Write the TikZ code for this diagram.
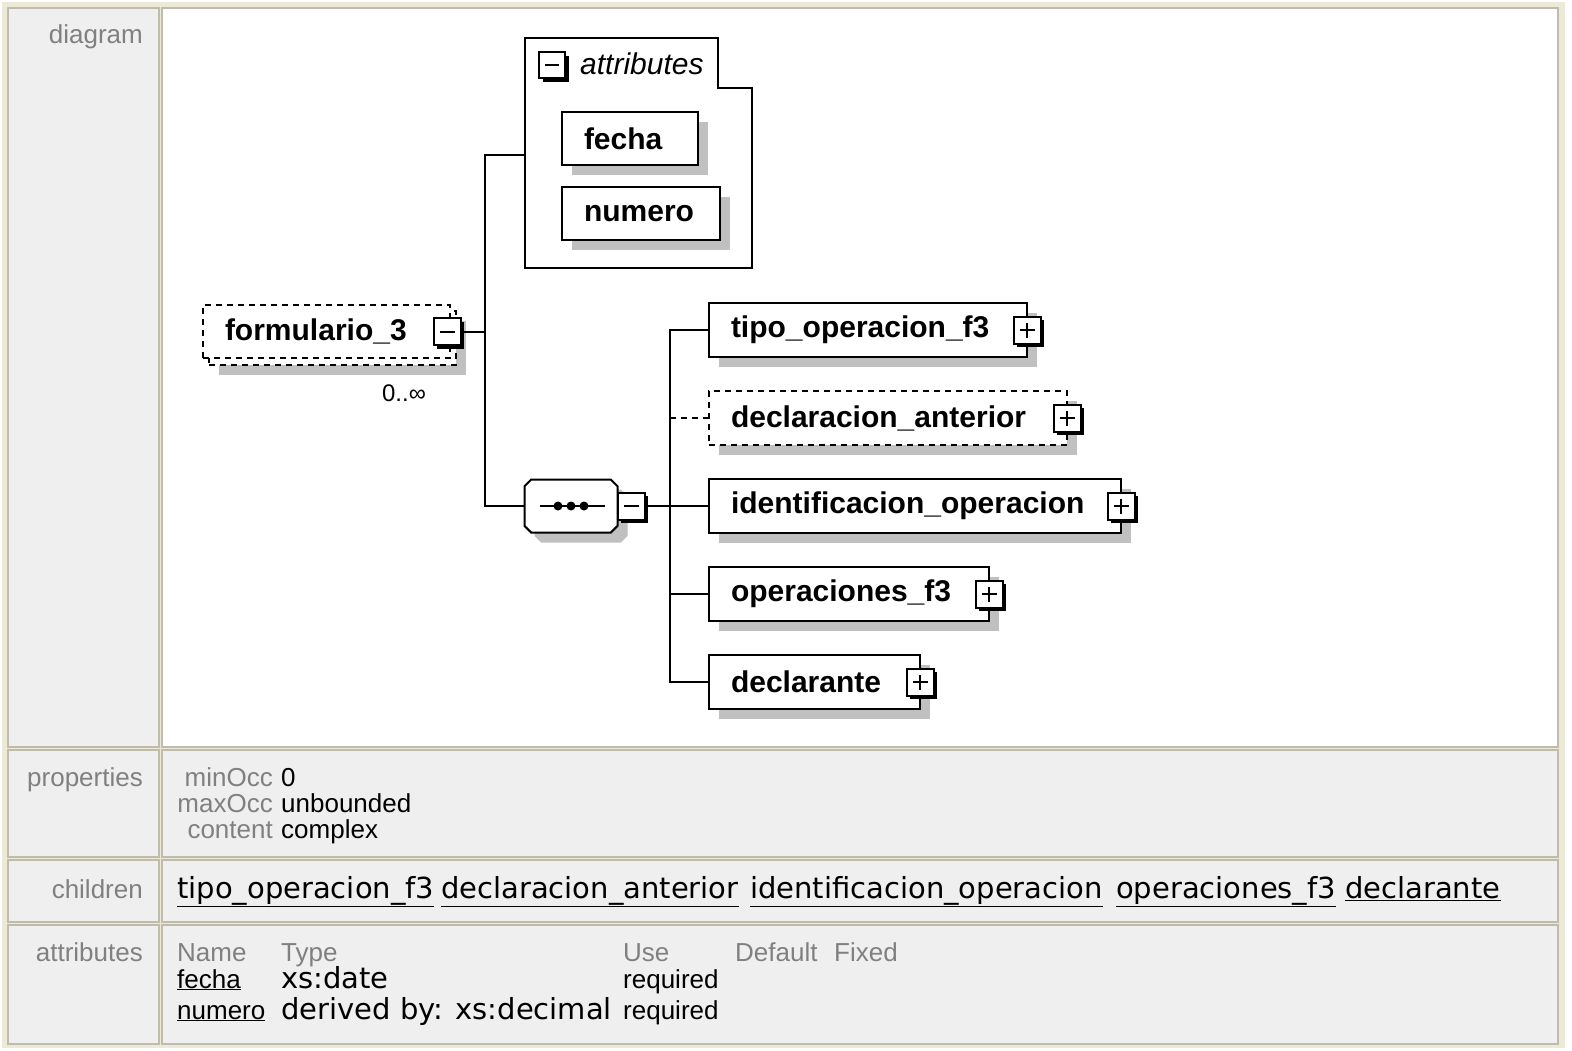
\documentclass[tikz,border=0pt]{standalone}
\usepackage{fontspec}
\setmainfont{Liberation Sans}
\newfontfamily\linkfont{DejaVu Sans}
\usepackage{tikz}
\usetikzlibrary{positioning, shadows, shapes.misc}
\definecolor{cellgray}{RGB}{239,239,239}
\definecolor{cellline}{RGB}{192,188,172}
\definecolor{framebeige}{RGB}{236,233,216}
\definecolor{labelgray}{RGB}{128,128,128}
\definecolor{shadowgray}{RGB}{192,192,192}
\tikzset{
x=1pt, y=-1pt, % one unit is one pixel, y runs downwards
node distance=34pt, % gap between the child elements
wire/.style={line width=2pt}, % the connecting lines
optional/.style={dash pattern=on 6pt off 5pt}, % elements with minOccurs=0
shade/.style={drop shadow={shadow xshift=10pt, shadow yshift=-10pt, fill=shadowgray, opacity=1}},
element/.style={draw, line width=2pt, fill=white, outer sep=0pt, anchor=north west, minimum height=54pt, inner xsep=22pt, inner ysep=0pt, align=left, font=\fontsize{30}{34}\selectfont\bfseries},
expander/.style={draw, line width=2pt, fill=white, minimum size=27pt, inner sep=0pt, outer sep=0pt, drop shadow={shadow xshift=3.5pt, shadow yshift=-3.5pt, fill=black, opacity=1}},
minusbox/.style={expander, path picture={\draw[line width=2pt] ([xshift=6pt]path picture bounding box.west) -- ([xshift=-6pt]path picture bounding box.east);}},
plusbox/.style={expander, path picture={\draw[line width=2pt] ([xshift=6pt]path picture bounding box.west) -- ([xshift=-6pt]path picture bounding box.east); \draw[line width=2pt] ([yshift=-6pt]path picture bounding box.north) -- ([yshift=6pt]path picture bounding box.south);}},
cell/.style={draw=cellline, line width=2.5pt, fill=cellgray}, % table cells
rowlabel/.style={anchor=base east, inner sep=0pt, text=labelgray, font=\fontsize{26}{30}\selectfont},
keytext/.style={anchor=base west, inner sep=0pt, font=\fontsize{26}{30}\selectfont},
typetext/.style={anchor=base west, inner sep=0pt, font=\linkfont\fontsize{29}{33}\selectfont},
}

\begin{document}
\begin{tikzpicture}

    % table
    \fill[white] (0,0) rectangle (1572,1050);
    \fill[framebeige] (2,2) rectangle (1565,1048);
    \draw[cell] (8,8) rectangle (159,747);
    \draw[cell, fill=white] (162,8) rectangle (1558,747);
    \draw[cell] (8,750) rectangle (159,857);
    \draw[cell] (162,750) rectangle (1558,857);
    \draw[cell] (8,860) rectangle (159,922);
    \draw[cell] (162,860) rectangle (1558,922);
    \draw[cell] (8,925) rectangle (159,1044);
    \draw[cell] (162,925) rectangle (1558,1044);

    \node[rowlabel] (ldiagram) at (143,43) {diagram};
    \node[rowlabel] (lprops) at (143,786) {properties};
    \node[rowlabel] (lchildren) at (143,898) {children};
    \node[rowlabel] (lattrs) at (143,961) {attributes};

    % properties
    \node[rowlabel] (minocc) at (273,786) {minOcc};
    \node[keytext] (minoccv) at (281,786) {0};
    \node[rowlabel] (maxocc) at (273,812) {maxOcc};
    \node[keytext] (maxoccv) at (281,812) {unbounded};
    \node[rowlabel] (content) at (273,838) {content};
    \node[keytext] (contentv) at (281,838) {complex};

    % children
    \node[typetext] (ctipo) at (177,898) {\underline{tipo\_operacion\_f3}};
    \node[typetext] (cdecl) at (441,898) {\underline{declaracion\_anterior}};
    \node[typetext] (cident) at (750,898) {\underline{identificacion\_operacion}};
    \node[typetext] (copf3) at (1116,898) {\underline{operaciones\_f3}};
    \node[typetext] (cdeclarante) at (1345,898) {\underline{declarante}};

    % attributes
    \node[keytext, text=labelgray] (hname) at (177,961) {Name};
    \node[keytext, text=labelgray] (htype) at (281,961) {Type};
    \node[keytext, text=labelgray] (huse) at (623,961) {Use};
    \node[keytext, text=labelgray] (hdefault) at (735,961) {Default};
    \node[keytext, text=labelgray] (hfixed) at (834,961) {Fixed};
    \node[keytext] (afecha) at (177,988) {\underline{fecha}};
    \node[typetext] (tfecha) at (281,988) {xs:date};
    \node[keytext] (ufecha) at (623,988) {required};
    \node[keytext] (anumero) at (177,1019) {\underline{numero}};
    \node[typetext] (tnumero) at (281,1019) {derived by: xs:decimal};
    \node[keytext] (unumero) at (623,1019) {required};

    % diagram
    \node[element, optional, shade, text width=203pt, minimum height=54pt] (formback) at (209,311) {};
    \node[element, optional, text width=203pt, minimum height=53pt] (formulario) at (203,305) {formulario\_3};
    \node[minusbox] (formminus) at ([xshift=-3pt]formulario.east) {};
    \node[font=\fontsize{24}{28}\selectfont, inner sep=0pt] (occurs) at (404,393) {0..∞};

    \draw[line width=2pt, fill=white] (525,38) -- (718,38) -- (718,88) -- (752,88) -- (752,268) -- (525,268) -- cycle;
    \coordinate (attrgroup) at (525,155);
    \node[minusbox, minimum size=26pt] (attrminus) at (552,65) {};
    \node[anchor=west, inner sep=0pt, font=\fontsize{30}{34}\selectfont\itshape] (attrtitle) at (580,64) {attributes};
    \node[element, shade, text width=92pt, minimum height=53pt] (fecha) at (562,112) {fecha};
    \node[element, shade, text width=114pt, minimum height=53pt, below=22pt of fecha.south west, anchor=north west] (numero) {numero};

    \node[draw, line width=2pt, fill=white, outer sep=0pt, chamfered rectangle, chamfered rectangle xsep=14pt, minimum width=93pt, minimum height=53pt, shade,
          path picture={\draw[black, line width=2pt] ([xshift=15pt]path picture bounding box.west) -- ([xshift=-13pt]path picture bounding box.east);
                        \foreach \dx in {-13,0,13} \fill[black] ([xshift=\dx pt]path picture bounding box.center) circle[radius=4.5pt];}] (seq) at (571,506) {};
    \node[minusbox, anchor=west] (seqminus) at (seq.east) {};

    \node[element, shade, text width=274pt] (tipo) at (709,303) {tipo\_operacion\_f3};
    \node[element, optional, shade, text width=314pt, below=of tipo.south west, anchor=north west] (decl) {declaracion\_anterior};
    \node[element, shade, text width=368pt, below=of decl.south west, anchor=north west] (ident) {identificacion\_operacion};
    \node[element, shade, text width=236pt, below=of ident.south west, anchor=north west] (opf3) {operaciones\_f3};
    \node[element, shade, text width=167pt, below=of opf3.south west, anchor=north west] (declarante) {declarante};

    \node[plusbox] (tipoplus) at (tipo.east) {};
    \node[plusbox] (declplus) at (decl.east) {};
    \node[plusbox] (identplus) at (ident.east) {};
    \node[plusbox] (opf3plus) at (opf3.east) {};
    \node[plusbox] (declaranteplus) at (declarante.east) {};

    \coordinate (trunk) at (485,0);
    \draw[wire] (formminus.east) -- (formminus.east -| trunk);
    \draw[wire] (attrgroup) -- (attrgroup -| trunk) -- (seq.west -| trunk) -- (seq.west);
    \draw[wire] (seqminus.east) -- (ident.west);
    \draw[wire] (tipo.west) -- ++(-39,0) |- (declarante.west);
    \draw[wire, optional] (decl.west) -- ++(-39,0);
    \draw[wire] (opf3.west) -- ++(-39,0);

\end{tikzpicture}
\end{document}
